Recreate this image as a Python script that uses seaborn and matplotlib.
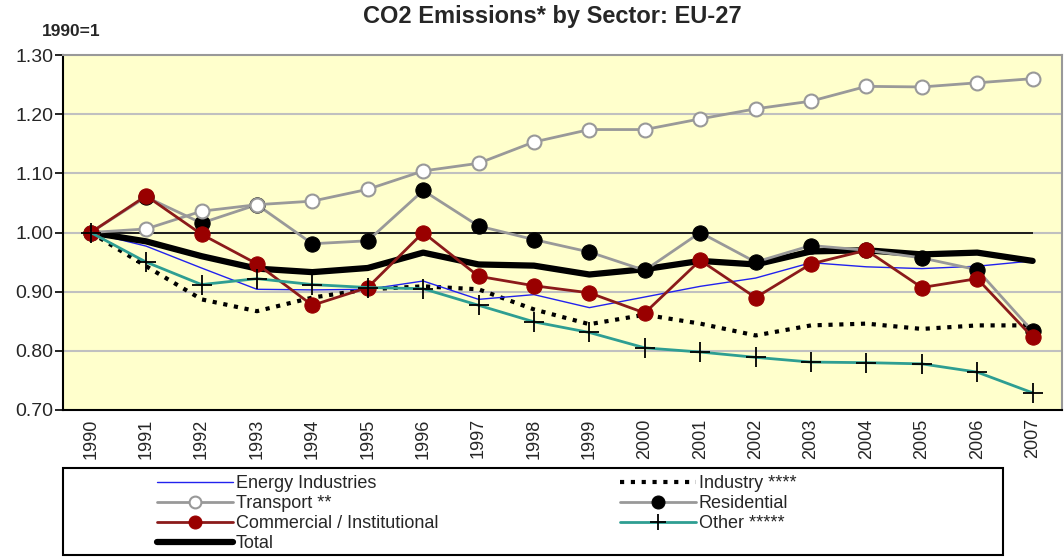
import numpy as np
import seaborn as sns
import matplotlib.pyplot as plt
from matplotlib.patches import Rectangle
from matplotlib.ticker import FixedLocator

# Datos (1990 = 1)
years = list(range(1990, 2008))
energy = [1.00, 0.977, 0.940, 0.904, 0.903, 0.904, 0.918, 0.887, 0.895, 0.873,
          0.891, 0.909, 0.923, 0.949, 0.942, 0.939, 0.943, 0.952]
industry = [1.00, 0.943, 0.887, 0.867, 0.890, 0.904, 0.909, 0.904, 0.870, 0.845,
            0.861, 0.846, 0.826, 0.843, 0.846, 0.837, 0.843, 0.843]
transport = [1.00, 1.006, 1.036, 1.047, 1.053, 1.073, 1.104, 1.117, 1.153, 1.174,
             1.174, 1.192, 1.209, 1.222, 1.247, 1.246, 1.253, 1.260]
residential = [1.00, 1.060, 1.016, 1.047, 0.981, 0.986, 1.071, 1.011, 0.988, 0.967,
               0.936, 1.000, 0.950, 0.978, 0.970, 0.957, 0.937, 0.833]
commercial = [1.00, 1.062, 0.997, 0.947, 0.877, 0.907, 1.000, 0.926, 0.910, 0.898,
              0.864, 0.953, 0.890, 0.947, 0.970, 0.907, 0.922, 0.823]
other = [1.00, 0.950, 0.912, 0.922, 0.912, 0.907, 0.905, 0.877, 0.849, 0.831,
         0.805, 0.798, 0.789, 0.781, 0.780, 0.778, 0.764, 0.729]
total = [1.00, 0.985, 0.960, 0.939, 0.933, 0.940, 0.966, 0.946, 0.944, 0.929,
         0.938, 0.952, 0.946, 0.968, 0.970, 0.963, 0.966, 0.952]
yticks = [0.70, 0.80, 0.90, 1.00, 1.10, 1.20, 1.30]

sns.set_style("white")
plt.rcParams['font.family'] = ['Liberation Sans', 'DejaVu Sans']

fig = plt.figure(figsize=(10.64, 5.58), dpi=100)
ax = fig.add_axes([63 / 1064, 1 - 410 / 558, 999 / 1064, 355 / 558])
ax.set_facecolor('#FFFFCC')

for y in yticks[1:-1]:
    ax.axhline(y, color='#C0C0C0', lw=1.5, zorder=0)
ax.hlines(1.0, years[0], years[-1], color='black', lw=1.2, zorder=1)

sns.lineplot(x=years, y=industry, ax=ax, color='black', lw=3,
             linestyle=(0, (1, 1.6)), label='Industry ****', zorder=2)
sns.lineplot(x=years, y=energy, ax=ax, color='#2222EE', lw=1,
             label='Energy Industries', zorder=2)
sns.lineplot(x=years, y=total, ax=ax, color='black', lw=4.5,
             label='Total', zorder=3)
sns.lineplot(x=years, y=residential, ax=ax, color='#999999', lw=2,
             marker='o', markersize=11, markerfacecolor='black',
             markeredgecolor='black', label='Residential', zorder=4)
sns.lineplot(x=years, y=transport, ax=ax, color='#999999', lw=2,
             marker='o', markersize=10, markerfacecolor='white',
             markeredgecolor='#999999', markeredgewidth=1.5,
             label='Transport **', zorder=5)
sns.lineplot(x=years, y=commercial, ax=ax, color='#8B1A1A', lw=2,
             marker='o', markersize=11, markerfacecolor='#990000',
             markeredgecolor='#990000', label='Commercial / Institutional', zorder=6)
sns.lineplot(x=years, y=other, ax=ax, color='#2E9E92', lw=2,
             marker='+', markersize=14, markeredgewidth=1.3,
             markeredgecolor='black', label='Other *****', zorder=7)

ax.set_xlim(years[0] - 0.5, years[-1] + 0.53)
ax.set_ylim(0.70, 1.30)
ax.set_yticks(yticks)
ax.set_yticklabels(['%.2f' % v for v in yticks], fontsize=14)
ax.set_xticks(years)
ax.set_xticklabels([str(y) for y in years], rotation=90, fontsize=13)
ax.xaxis.set_minor_locator(FixedLocator([y + 0.5 for y in years[:-1]] + [years[0] - 0.5]))
ax.tick_params(axis='x', which='major', length=0, pad=6)
ax.tick_params(axis='x', which='minor', length=7, width=1.2, color='black', direction='out')
ax.tick_params(axis='y', length=6, width=1.2, color='black', direction='out', left=True, pad=1)
ax.set_xlabel('')
ax.set_ylabel('')

for side in ['left', 'bottom']:
    ax.spines[side].set_color('black')
    ax.spines[side].set_linewidth(1.5)
for side in ['top', 'right']:
    ax.spines[side].set_color('#999999')
    ax.spines[side].set_linewidth(1.5)

fig.text(552 / 1064, 1 - 16 / 558, 'CO2 Emissions* by Sector: EU-27',
         ha='center', va='center', fontsize=17, fontweight='bold')
fig.text(71 / 1064, 1 - 31 / 558, '1990=1', ha='center', va='center',
         fontsize=12.5, fontweight='bold')

handles, labels = ax.get_legend_handles_labels()
ax.get_legend().remove()
order = ['Energy Industries', 'Transport **', 'Commercial / Institutional', 'Total',
         'Industry ****', 'Residential', 'Other *****']
hmap = dict(zip(labels, handles))
fig.patches.append(Rectangle((63 / 1064, 3 / 558), 940 / 1064, 87 / 558,
                             transform=fig.transFigure, fill=True, facecolor='white',
                             edgecolor='black', lw=1.5, zorder=5))
leg = fig.legend([hmap[k] for k in order], order, ncol=2, frameon=False,
                 loc='upper left', bbox_to_anchor=(148 / 1064, 1 - 466 / 558),
                 fontsize=13, handlelength=4.2, handletextpad=0.15,
                 labelspacing=0.17, columnspacing=10.1, borderpad=0,
                 markerscale=0.85)
leg.set_zorder(6)

fig.savefig('out.png', dpi=100)
